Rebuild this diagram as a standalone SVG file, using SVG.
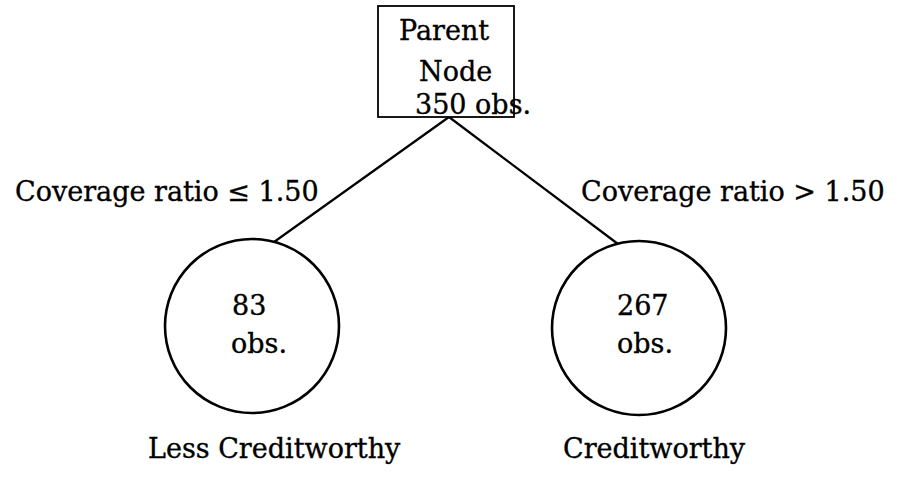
<svg xmlns="http://www.w3.org/2000/svg" width="898" height="478" viewBox="0 0 898 478">
  <style>
    text { font-family: "DejaVu Serif", "Liberation Serif", serif; font-size: 27px; fill: #000; stroke: #000; stroke-width: 0.35; }
    .box { fill: #fff; stroke: #000; stroke-width: 1.8; }
    .leaf { fill: #fff; stroke: #000; stroke-width: 2.6; }
    .edge { stroke: #000; stroke-width: 2.2; fill: none; }
  </style>
  <rect width="898" height="478" fill="#fff"/>

  <!-- connectors and their split conditions -->
  <g id="edges">
    <line class="edge" x1="449" y1="117" x2="274" y2="242"/>
    <line class="edge" x1="449" y1="117" x2="618" y2="244"/>
    <text x="15" y="201">Coverage ratio ≤ 1.50</text>
    <text x="581" y="201">Coverage ratio &gt; 1.50</text>
  </g>

  <!-- root node -->
  <g id="parent">
    <rect class="box" x="378" y="6" width="136" height="111"/>
    <text x="399" y="40">Parent</text>
    <text x="419" y="81">Node</text>
    <text x="415" y="114">350 obs.</text>
  </g>

  <!-- left leaf -->
  <g id="leaf-left">
    <circle class="leaf" cx="252" cy="326" r="87"/>
    <text x="232" y="315">83</text>
    <text x="231" y="353">obs.</text>
    <text x="148" y="458">Less Creditworthy</text>
  </g>

  <!-- right leaf -->
  <g id="leaf-right">
    <circle class="leaf" cx="639" cy="328" r="87"/>
    <text x="617" y="315">267</text>
    <text x="617" y="353">obs.</text>
    <text x="563" y="458">Creditworthy</text>
  </g>
</svg>
